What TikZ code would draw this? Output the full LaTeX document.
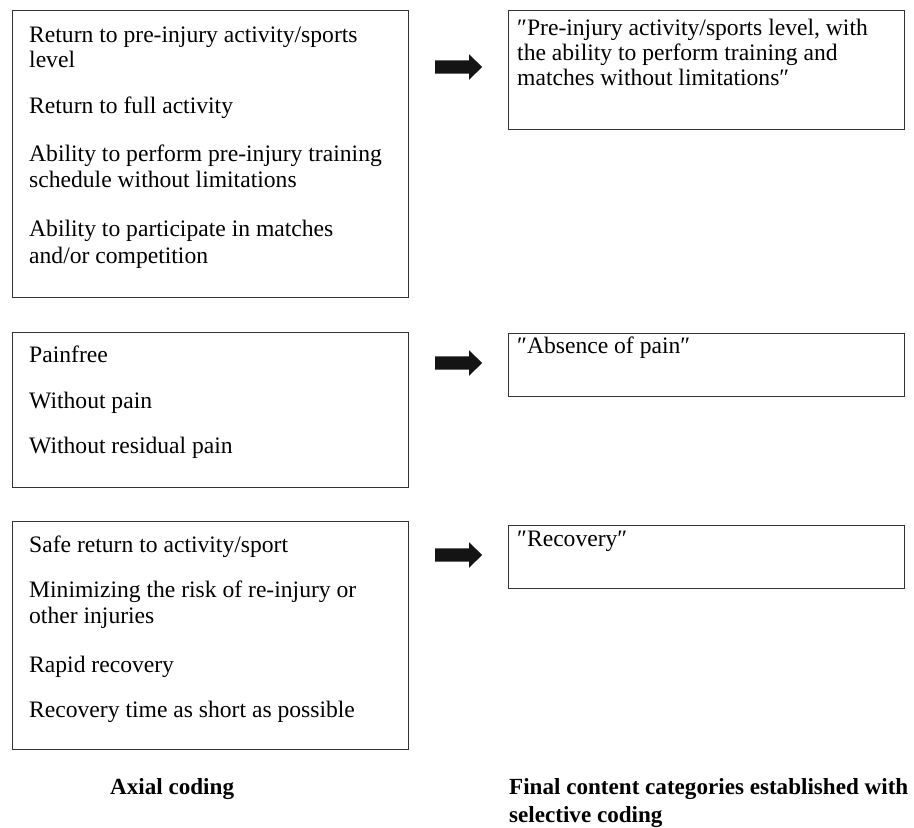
\documentclass[tikz,border=0pt]{standalone}
\usepackage{fontspec}
\setmainfont{Liberation Serif}
\usetikzlibrary{shapes.arrows}
\begin{document}
\begin{tikzpicture}[x=1pt,y=-1pt,
  box/.style={draw=black!80, line width=1.3pt, inner sep=0pt, anchor=north west},
  txt/.style={anchor=base west, inner sep=0pt, font=\fontsize{23.6}{25}\selectfont},
  lbl/.style={anchor=base west, inner sep=0pt, font=\fontsize{23.1}{29}\selectfont\bfseries},
  blockarrow/.style={single arrow, fill=black!92, draw=none, inner xsep=0pt, inner ysep=6.5pt,
    single arrow head extend=6pt, minimum height=47pt, single arrow tip angle=88, anchor=west}]
\useasboundingbox (0,0) rectangle (914,828);
% left boxes
\node[box, minimum width=396pt, minimum height=287pt] (L1) at (12,10) {};
\node[box, minimum width=396pt, minimum height=155pt] (L2) at (12,332) {};
\node[box, minimum width=396pt, minimum height=228pt] (L3) at (12,521) {};
% right boxes
\node[box, minimum width=396pt, minimum height=119pt] (R1) at (508,10) {};
\node[box, minimum width=396pt, minimum height=63pt] (R2) at (508,333) {};
\node[box, minimum width=396pt, minimum height=63pt] (R3) at (508,525) {};
% arrows
\node[blockarrow] (A1) at (435,67) {};
\node[blockarrow] (A2) at (435,363) {};
\node[blockarrow] (A3) at (435,555) {};
% left box 1 text
\node[txt] (t1a) at (29,42) {Return to pre-injury activity/sports};
\node[txt] (t1b) at (29,67) {level};
\node[txt] (t1c) at (29,113) {Return to full activity};
\node[txt] (t1d) at (29,161) {Ability to perform pre-injury training};
\node[txt] (t1e) at (29,187) {schedule without limitations};
\node[txt] (t1f) at (29,236) {Ability to participate in matches};
\node[txt] (t1g) at (29,263) {and/or competition};
% left box 2 text
\node[txt] (t2a) at (29,362) {Painfree};
\node[txt] (t2b) at (29,408) {Without pain};
\node[txt] (t2c) at (29,453) {Without residual pain};
% left box 3 text
\node[txt] (t3a) at (29,552) {Safe return to activity/sport};
\node[txt] (t3b) at (29,597) {Minimizing the risk of re-injury or};
\node[txt] (t3c) at (29,623) {other injuries};
\node[txt] (t3d) at (29,672) {Rapid recovery};
\node[txt] (t3e) at (29,717) {Recovery time as short as possible};
% right box text
\node[txt] (r1a) at (517,35) {″Pre-injury activity/sports level, with};
\node[txt] (r1b) at (517,60) {the ability to perform training and};
\node[txt] (r1c) at (517,85) {matches without limitations″};
\node[txt] (r2a) at (517,353) {″Absence of pain″};
\node[txt] (r3a) at (517,546) {″Recovery″};
% bottom labels
\node[lbl] (ax) at (110,794) {Axial coding};
\node[lbl] (fc1) at (509,794) {Final content categories established with};
\node[lbl] (fc2) at (509,822) {selective coding};
\end{tikzpicture}
\end{document}
